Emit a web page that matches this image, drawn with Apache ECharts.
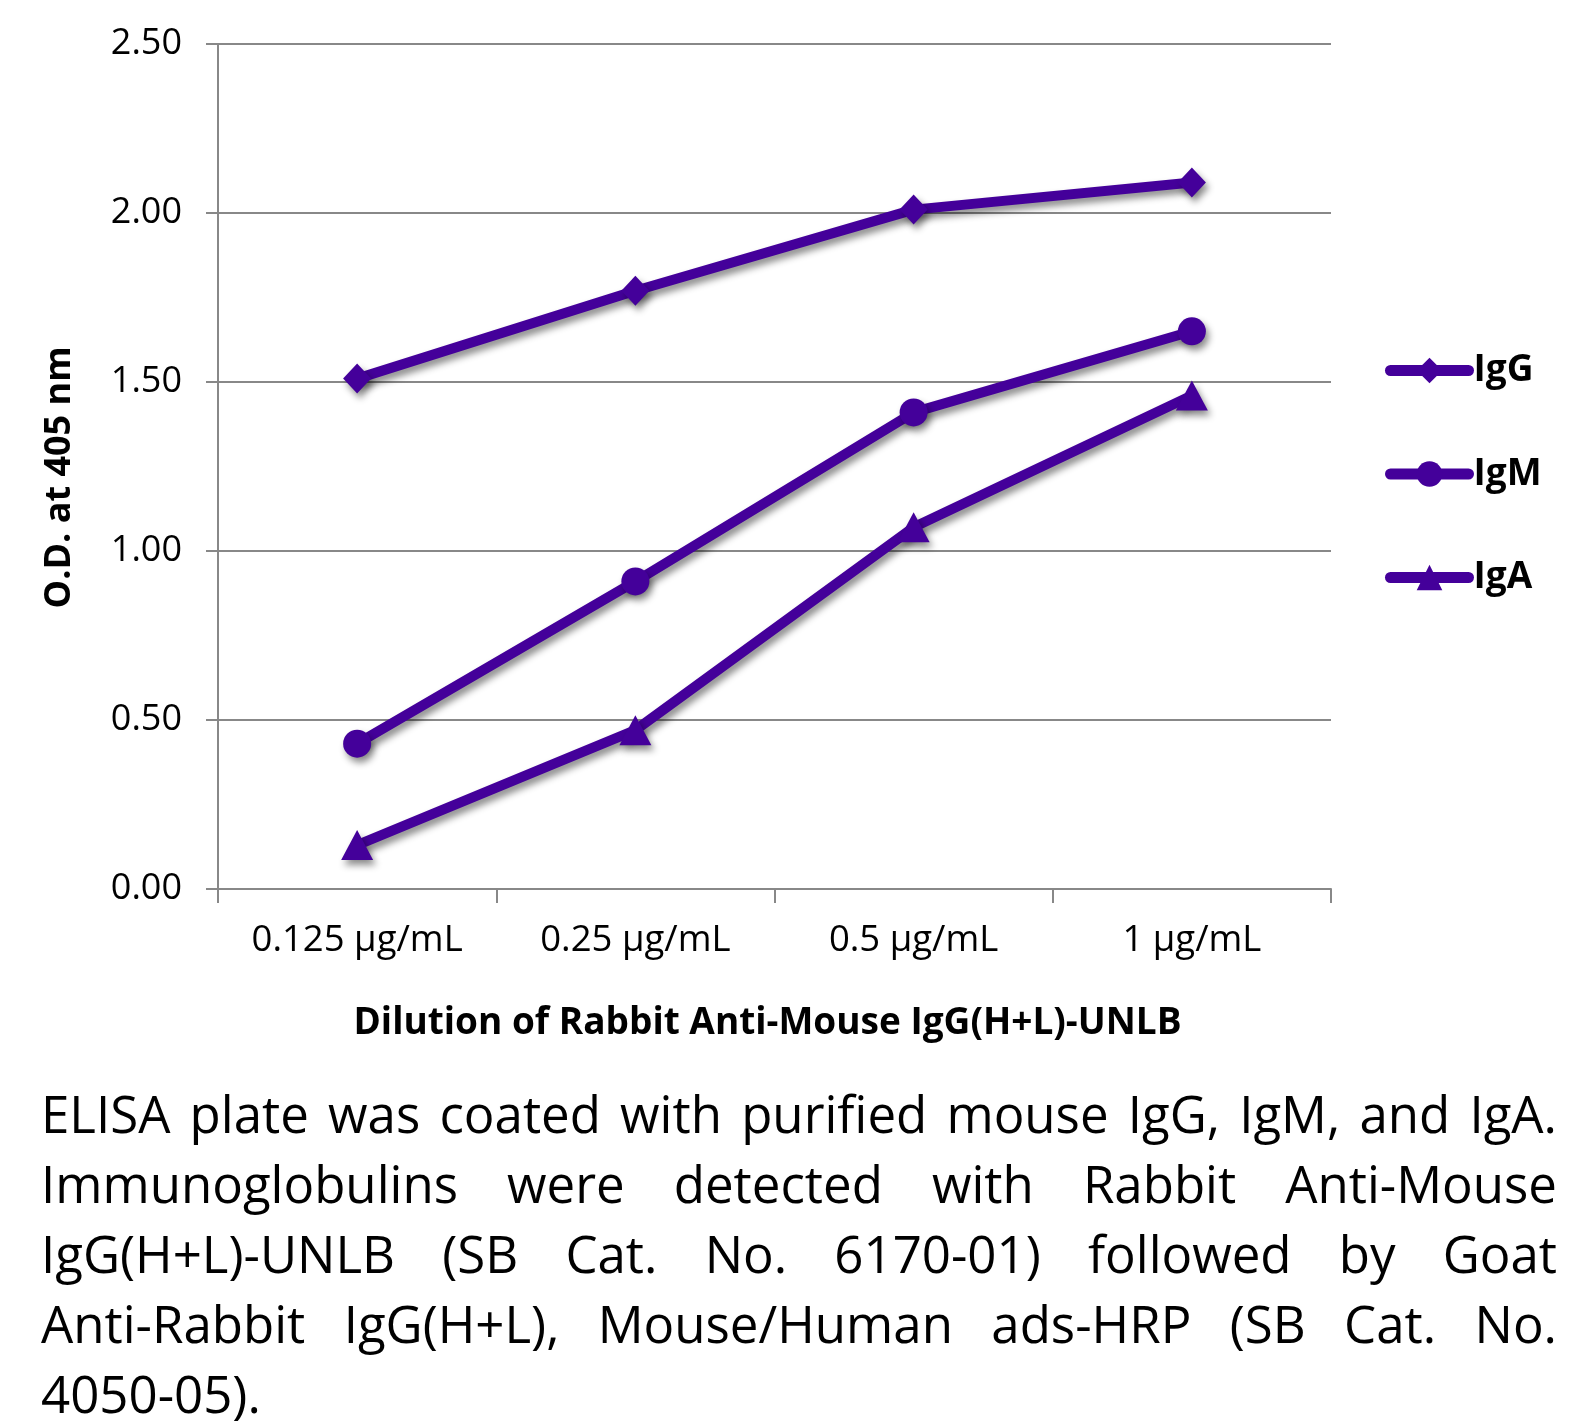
<!DOCTYPE html>
<html>
<head>
<meta charset="utf-8">
<script src="https://cdn.jsdelivr.net/npm/echarts@6/dist/echarts.min.js"></script>
<style>
html,body{margin:0;padding:0;background:#fff;}
#chart{position:absolute;left:0;top:0;width:1590px;height:1427px;}
#caption{position:absolute;left:41px;top:1078px;width:1516px;font-family:"Open Sans",sans-serif;font-size:51px;color:#000;}
#caption div{height:70px;line-height:70px;white-space:nowrap;text-align:justify;text-align-last:justify;}
#caption div.last{text-align:left;text-align-last:left;}
</style>
</head>
<body>
<div id="chart"></div>
<div id="caption">
<div>ELISA plate was coated with purified mouse IgG, IgM, and IgA.</div>
<div>Immunoglobulins were detected with Rabbit Anti-Mouse</div>
<div>IgG(H+L)-UNLB (SB Cat. No. 6170-01) followed by Goat</div>
<div>Anti-Rabbit IgG(H+L), Mouse/Human ads-HRP (SB Cat. No.</div>
<div class="last">4050-05).</div>
</div>
<script>
const categories = ["0.125 µg/mL", "0.25 µg/mL", "0.5 µg/mL", "1 µg/mL"];
const igG = [1.51, 1.77, 2.01, 2.09];
const igM = [0.43, 0.91, 1.41, 1.65];
const igA = [0.13, 0.47, 1.07, 1.46];
const seriesNames = ["IgG", "IgM", "IgA"];

const purple = '#44009a';
const font = '"Open Sans", sans-serif';
function mk(name, data, symbol, size) {
  return {
    name: name, type: 'line', data: data, symbol: symbol, symbolSize: size,
    showSymbol: true,
    lineStyle: {color: purple, width: 10, shadowColor: 'rgba(0,0,0,0.45)', shadowBlur: 7, shadowOffsetX: 3, shadowOffsetY: 5},
    itemStyle: {color: purple, shadowColor: 'rgba(0,0,0,0.45)', shadowBlur: 7, shadowOffsetX: 3, shadowOffsetY: 5},
    emphasis: {disabled: true},
    animation: false
  };
}
const chart = echarts.init(document.getElementById('chart'), null, {renderer: 'canvas'});
chart.setOption({
  animation: false,
  backgroundColor: '#fff',
  grid: {left: 218, top: 44, right: 259, bottom: 538, containLabel: false},
  legend: {
    orient: 'vertical', left: 1385, top: 352, padding: 0,
    itemWidth: 78, itemHeight: 32, itemGap: 66.5,
    data: seriesNames,
    textStyle: {fontFamily: font, fontWeight: 'bold', fontSize: 37, color: '#000', lineHeight: 32},
    lineStyle: {width: 11, cap: 'round', shadowBlur: 0, shadowOffsetX: 0, shadowOffsetY: 0},
    itemStyle: {shadowBlur: 0, shadowOffsetX: 0, shadowOffsetY: 0}
  },
  xAxis: {
    type: 'category', data: categories, boundaryGap: true,
    name: 'Dilution of Rabbit Anti-Mouse IgG(H+L)-UNLB', nameLocation: 'middle', nameGap: 116,
    nameTextStyle: {fontFamily: font, fontWeight: 'bold', fontSize: 37, color: '#000', padding: [0, 14, 0, 0]},
    axisLine: {lineStyle: {color: '#888', width: 2}},
    axisTick: {show: true, interval: 0, length: 14, lineStyle: {color: '#888', width: 2}, alignWithLabel: false},
    axisLabel: {interval: 0, hideOverlap: false, fontFamily: font, fontSize: 36.5, color: '#000', margin: 33}
  },
  yAxis: {
    type: 'value', min: 0, max: 2.5, interval: 0.5,
    name: 'O.D. at 405 nm', nameLocation: 'middle', nameGap: 140, nameRotate: 90,
    nameTextStyle: {fontFamily: font, fontWeight: 'bold', fontSize: 36, color: '#000', padding: [0, 22, 0, 0]},
    axisLine: {show: true, lineStyle: {color: '#888', width: 2}},
    axisTick: {show: true, length: 12, lineStyle: {color: '#888', width: 2}},
    splitLine: {show: true, lineStyle: {color: '#888', width: 2}},
    axisLabel: {fontFamily: font, fontSize: 36, color: '#000', margin: 36, formatter: v => v.toFixed(2)}
  },
  series: [
    mk(seriesNames[0], igG, 'diamond', [28, 30]),
    mk(seriesNames[1], igM, 'circle', 28),
    mk(seriesNames[2], igA, 'triangle', [32, 30])
  ]
});
</script>
</body>
</html>
